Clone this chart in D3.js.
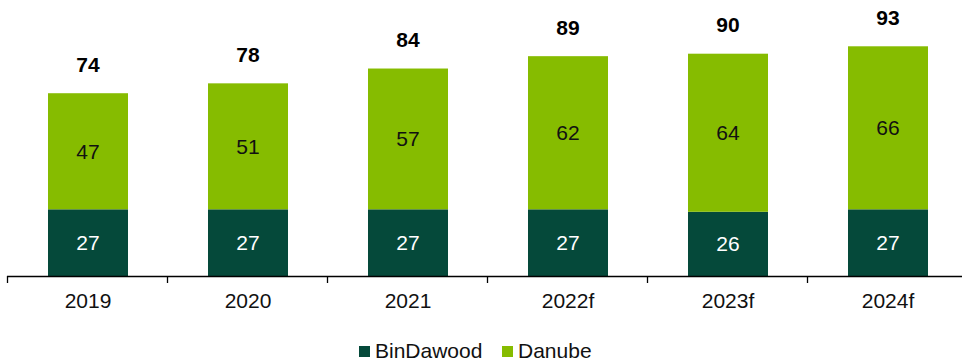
<!DOCTYPE html>
<html>
<head>
<meta charset="utf-8">
<script src="https://cdn.jsdelivr.net/npm/d3@7"></script>
<style>
  body { margin: 0; background: #fff; }
  text { font-family: "Liberation Sans", Arial, sans-serif; }
</style>
</head>
<body>
<svg id="chart" width="962" height="364"></svg>
<script>
// chart data
const years = ['2019', '2020', '2021', '2022f', '2023f', '2024f'];
const binDawood = [27, 27, 27, 27, 26, 27];
const danube = [47, 51, 57, 62, 64, 66];
const totals = [74, 78, 84, 89, 90, 93];
const seriesNames = ['BinDawood', 'Danube'];
const colors = ['#05493a', '#86bc00'];

const svg = d3.select('#chart');

const x = d3.scaleBand()
  .domain(years)
  .range([8, 968])
  .paddingInner(0.5)
  .paddingOuter(0.25);

const y = d3.scaleLinear()
  .domain([0, 100])
  .range([276, 29]);

const rows = years.map((yr, i) => ({ year: yr, BinDawood: binDawood[i], Danube: danube[i] }));
const stacked = d3.stack().keys(seriesNames)(rows);

// bars
const groups = svg.selectAll('g.series')
  .data(stacked)
  .join('g')
  .attr('class', 'series')
  .attr('fill', (d, i) => colors[i]);

groups.selectAll('rect')
  .data(d => d)
  .join('rect')
  .attr('x', d => x(d.data.year))
  .attr('width', x.bandwidth())
  .attr('y', d => y(d[1]))
  .attr('height', d => y(d[0]) - y(d[1]));

// segment labels
stacked.forEach((s, si) => {
  svg.selectAll('text.seg' + si)
    .data(s)
    .join('text')
    .attr('class', 'seg' + si)
    .attr('x', d => x(d.data.year) + x.bandwidth() / 2)
    .attr('y', d => (y(d[0]) + y(d[1])) / 2)
    .attr('dy', '0.35em')
    .attr('text-anchor', 'middle')
    .attr('font-size', 21)
    .attr('fill', si === 0 ? '#fff' : '#111')
    .text(d => d.data[seriesNames[si]]);
});

// totals on top
svg.selectAll('text.total')
  .data(years)
  .join('text')
  .attr('class', 'total')
  .attr('x', d => x(d) + x.bandwidth() / 2)
  .attr('y', (d, i) => y(totals[i]) - 29)
  .attr('dy', '0.35em')
  .attr('text-anchor', 'middle')
  .attr('font-size', 21)
  .attr('font-weight', 'bold')
  .attr('fill', '#000')
  .text((d, i) => totals[i]);

// x axis (ticks between categories)
const step = x.step();
const boundaries = d3.range(years.length + 1).map(i => 8 + i * step - 1);
svg.append('line')
  .attr('x1', 7).attr('x2', 962)
  .attr('y1', 276.5).attr('y2', 276.5)
  .attr('stroke', '#000').attr('stroke-width', 1.3);
svg.selectAll('line.tick')
  .data(boundaries)
  .join('line')
  .attr('class', 'tick')
  .attr('x1', d => d + 0.5).attr('x2', d => d + 0.5)
  .attr('y1', 276).attr('y2', 283)
  .attr('stroke', '#000').attr('stroke-width', 1.3);

svg.selectAll('text.xlab')
  .data(years)
  .join('text')
  .attr('class', 'xlab')
  .attr('x', d => x(d) + x.bandwidth() / 2)
  .attr('y', 301)
  .attr('dy', '0.35em')
  .attr('text-anchor', 'middle')
  .attr('font-size', 21)
  .attr('fill', '#111')
  .text(d => d);

// legend
const legend = svg.append('g').attr('transform', 'translate(359,351)');
const legX = [0, 143];
seriesNames.forEach((name, i) => {
  legend.append('rect')
    .attr('x', legX[i]).attr('y', -5)
    .attr('width', 11).attr('height', 11)
    .attr('fill', colors[i]);
  legend.append('text')
    .attr('x', legX[i] + 16).attr('y', 0)
    .attr('dy', '0.35em')
    .attr('font-size', 21)
    .attr('fill', '#111')
    .text(name);
});
</script>
</body>
</html>
